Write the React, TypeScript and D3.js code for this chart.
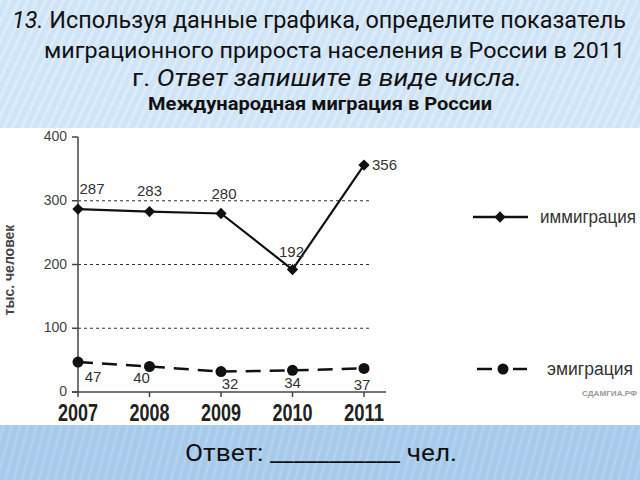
import React from "react";
import * as d3 from "d3";

const years = ["2007", "2008", "2009", "2010", "2011"];
const immigration = [287, 283, 280, 192, 356];
const emigration = [47, 40, 32, 34, 37];
const yTicks = [0, 100, 200, 300, 400];
const gridValues = [100, 200, 300];

const W = 640;
const H = 480;

const immLabelOffsets: [number, number, string][] = [
  [14, -15, "middle"],
  [0, -16, "middle"],
  [3, -15, "middle"],
  [-1, -13, "middle"],
  [8, 5, "start"],
];
const emiLabelOffsets: [number, number][] = [
  [15, 20],
  [-8, 16],
  [9, 17],
  [0, 18],
  [-2, 22],
];

export default function App() {
  const x = d3.scalePoint<string>().domain(years).range([78, 364]);
  const y = d3.scaleLinear().domain([0, 400]).range([392, 137]);

  const immPts = years.map((yr, i) => [x(yr)!, y(immigration[i])] as [number, number]);
  const emiPts = years.map((yr, i) => [x(yr)!, y(emigration[i])] as [number, number]);
  const line = d3.line<[number, number]>();
  const diamond = d3.symbol().type(d3.symbolSquare).size(64)()!;

  const narrow = "'Liberation Sans Narrow', 'Liberation Sans', Arial, sans-serif";
  const titleFont = "'Liberation Sans Narrow', Roboto, 'Liberation Sans', sans-serif";

  return (
    <svg
      width={W}
      height={H}
      viewBox={`0 0 ${W} ${H}`}
      style={{ position: "absolute", left: 0, top: 0, background: "#fff" }}
    >
      <defs>
        <pattern id="topStripes" width="8" height="8" patternUnits="userSpaceOnUse" patternTransform="rotate(25)">
          <rect width="8" height="8" fill="#cfe4f7" />
          <rect width="3" height="8" fill="#dcebf9" />
        </pattern>
        <pattern id="botStripes" width="8" height="8" patternUnits="userSpaceOnUse" patternTransform="rotate(15)">
          <rect width="8" height="8" fill="#a7caea" />
          <rect width="3" height="8" fill="#b2d1ee" />
        </pattern>
      </defs>

      {/* backgrounds */}
      <rect x={0} y={0} width={W} height={128} fill="url(#topStripes)" />
      <rect x={0} y={128} width={W} height={297} fill="#ffffff" />
      <rect x={0} y={425} width={W} height={55} fill="url(#botStripes)" />

      {/* Title text */}
      <g fill="#111" fontFamily={titleFont}>
        <text x={12} y={28} fontSize={23} textLength={614} lengthAdjust="spacingAndGlyphs">
          <tspan fontStyle="italic">13.</tspan> Используя данные графика, определите показатель
        </text>
        <text x={44} y={58} fontSize={22.5} textLength={581} lengthAdjust="spacingAndGlyphs">
          миграционного прироста населения в России в 2011
        </text>
        <text x={132} y={86} fontSize={23} textLength={390} lengthAdjust="spacingAndGlyphs">
          г. <tspan fontStyle="italic">Ответ запишите в виде числа.</tspan>
        </text>
        <text x={148} y={110} fontSize={18} fontWeight="bold" textLength={344} lengthAdjust="spacingAndGlyphs">
          Международная миграция в России
        </text>
      </g>

      {/* grid */}
      {gridValues.map((v) => (
        <line
          key={v}
          x1={x(years[0])!}
          x2={370}
          y1={y(v)}
          y2={y(v)}
          stroke="#333"
          strokeWidth={1.2}
          strokeDasharray="3,3"
        />
      ))}

      {/* axes */}
      <line x1={78} x2={78} y1={y(400)} y2={y(0)} stroke="#444" strokeWidth={1.5} />
      <line x1={72} x2={386} y1={y(0)} y2={y(0)} stroke="#444" strokeWidth={1.5} />
      {yTicks.map((t) => (
        <g key={t}>
          <line x1={72} x2={78} y1={y(t)} y2={y(t)} stroke="#444" strokeWidth={1.5} />
          <text x={67} y={y(t) + 4} fontSize={14} textAnchor="end" fill="#444" fontFamily={narrow}>
            {t}
          </text>
        </g>
      ))}
      {years.map((yr) => (
        <g key={yr}>
          <line x1={x(yr)!} x2={x(yr)!} y1={y(0)} y2={y(0) + 5} stroke="#444" strokeWidth={1.5} />
          <text
            x={x(yr)! - 20}
            y={421}
            fontSize={24}
            fontWeight="bold"
            fill="#222"
            fontFamily={narrow}
            textLength={40}
            lengthAdjust="spacingAndGlyphs"
          >
            {yr}
          </text>
        </g>
      ))}

      {/* y axis title */}
      <text
        transform={`translate(14,270) rotate(-90)`}
        textAnchor="middle"
        fontSize={14}
        fontWeight="bold"
        fill="#444"
        fontFamily={narrow}
      >
        тыс. человек
      </text>

      {/* immigration */}
      <path d={line(immPts)!} fill="none" stroke="#111" strokeWidth={2.2} />
      {immPts.map(([px, py], i) => (
        <path key={i} d={diamond} transform={`translate(${px},${py}) rotate(45)`} fill="#111" />
      ))}
      {immPts.map(([px, py], i) => (
        <text
          key={"il" + i}
          x={px + immLabelOffsets[i][0]}
          y={py + immLabelOffsets[i][1]}
          textAnchor={immLabelOffsets[i][2] as any}
          fontSize={15}
          fill="#333"
          fontFamily={narrow}
        >
          {immigration[i]}
        </text>
      ))}

      {/* emigration */}
      <path d={line(emiPts)!} fill="none" stroke="#111" strokeWidth={2.5} strokeDasharray="15,9" />
      {emiPts.map(([px, py], i) => (
        <circle key={i} cx={px} cy={py} r={5.5} fill="#111" />
      ))}
      {emiPts.map(([px, py], i) => (
        <text
          key={"el" + i}
          x={px + emiLabelOffsets[i][0]}
          y={py + emiLabelOffsets[i][1]}
          textAnchor="middle"
          fontSize={15}
          fill="#333"
          fontFamily={narrow}
        >
          {emigration[i]}
        </text>
      ))}

      {/* legend */}
      <line x1={473} x2={528} y1={217} y2={217} stroke="#111" strokeWidth={2.5} />
      <path d={diamond} transform="translate(500,217) rotate(45)" fill="#111" />
      <text x={540} y={223} fontSize={17.5} fill="#333" fontFamily={narrow} textLength={96} lengthAdjust="spacingAndGlyphs">
        иммиграция
      </text>

      <line x1={477} x2={492} y1={369} y2={369} stroke="#111" strokeWidth={2.5} />
      <circle cx={503} cy={369} r={5.5} fill="#111" />
      <line x1={513} x2={527} y1={369} y2={369} stroke="#111" strokeWidth={2.5} />
      <text x={547} y={375} fontSize={18} fill="#333" fontFamily={narrow} textLength={86} lengthAdjust="spacingAndGlyphs">
        эмиграция
      </text>

      <text x={582} y={396} fontSize={8} fontWeight="bold" fill="#999" fontFamily={narrow} textLength={55} lengthAdjust="spacingAndGlyphs">
        СДАМГИА.РФ
      </text>

      {/* answer */}
      <text x={185} y={461} fontSize={24} fill="#111" fontFamily={titleFont} textLength={272} lengthAdjust="spacingAndGlyphs">
        Ответ: ___________ чел.
      </text>
    </svg>
  );
}
